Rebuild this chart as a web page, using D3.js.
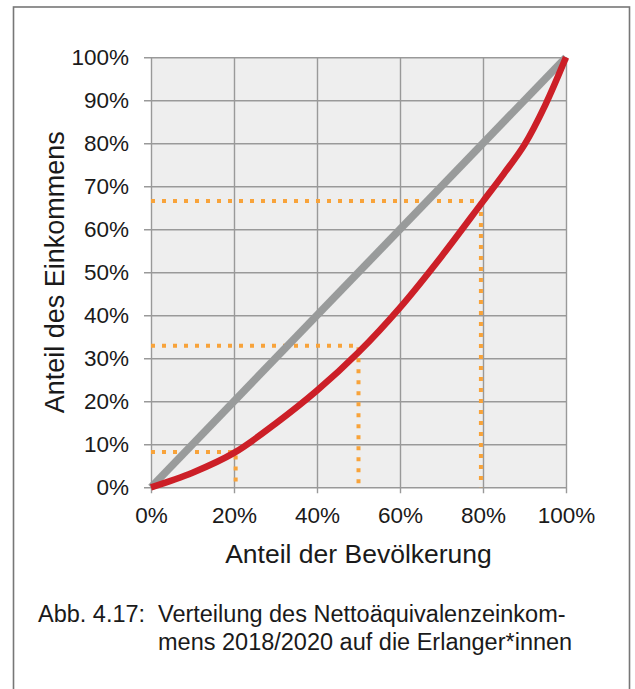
<!DOCTYPE html>
<html>
<head>
<meta charset="utf-8">
<script src="https://cdn.jsdelivr.net/npm/d3@7"></script>
<style>
  html, body { margin: 0; padding: 0; background: #fff; }
  svg { display: block; }
  text { font-family: "Liberation Sans", Arial, Helvetica, sans-serif; fill: #1a1a1a; }
</style>
</head>
<body>
<svg id="chart" width="635" height="689"></svg>
<script>
// ---- Data ----
const populationShare = [0, 10, 20, 30, 40, 50, 60, 70, 80, 85, 90, 95, 100];   // % of population
const incomeShare     = [0, 3.4, 8.0, 14.8, 22.5, 31.4, 41.8, 53.7, 66.5, 72.9, 79.7, 88.9, 100]; // % of income (Lorenz curve)
const equalityLine    = [[0, 0], [100, 100]];
const markerPop       = [20.4, 50, 79.5];   // orange guide lines: population share
const markerIncome    = [8.2, 32.9, 66.6];  // orange guide lines: income share
const xTickValues     = [0, 20, 40, 60, 80, 100];
const yTickValues     = [0, 10, 20, 30, 40, 50, 60, 70, 80, 90, 100];
const xTitle   = "Anteil der Bevölkerung";
const yTitle   = "Anteil des Einkommens";
const captionLabel = "Abb. 4.17:";
const captionLines = ["Verteilung des Nettoäquivalenzeinkom-", "mens 2018/2020 auf die Erlanger*innen"];

(function () {
// ---- Layout ----
const svg = d3.select("#chart");
const pL = 151, pR = 566, pT = 57.3, pB = 487.3;
const x = d3.scaleLinear().domain([0, 100]).range([pL, pR]);
const y = d3.scaleLinear().domain([0, 100]).range([pB, pT]);
const fmt = d => d + "%";

// outer frame
svg.append("rect")
  .attr("x", 13.5).attr("y", 7).attr("width", 616).attr("height", 720)
  .attr("fill", "none").attr("stroke", "#777").attr("stroke-width", 1.6);

// plot background
svg.append("rect")
  .attr("x", pL).attr("y", pT).attr("width", pR - pL).attr("height", pB - pT)
  .attr("fill", "#eeeeee");

const gridColor = "#999999";
// y axis with gridlines
const yAxis = svg.append("g")
  .attr("transform", `translate(${pL},0)`)
  .call(d3.axisLeft(y).tickValues(yTickValues).tickFormat(fmt)
        .tickSizeInner(-(pR - pL)).tickSizeOuter(0));
yAxis.select(".domain").remove();
yAxis.selectAll(".tick line")
  .attr("x1", -7).attr("stroke", gridColor).attr("stroke-width", 1.4);
yAxis.selectAll(".tick text")
  .attr("x", -22).attr("font-size", 22.5).attr("fill", "#1a1a1a")
  .attr("font-family", "Liberation Sans, Arial, sans-serif");

// x axis with gridlines
const xAxis = svg.append("g")
  .attr("transform", `translate(0,${pB})`)
  .call(d3.axisBottom(x).tickValues(xTickValues).tickFormat(fmt)
        .tickSizeInner(-(pB - pT)).tickSizeOuter(0));
xAxis.select(".domain").remove();
xAxis.selectAll(".tick line")
  .attr("y1", 6).attr("stroke", gridColor).attr("stroke-width", 1.4);
xAxis.selectAll(".tick text")
  .attr("y", 36).attr("dy", 0).attr("font-size", 22.5).attr("fill", "#1a1a1a")
  .attr("font-family", "Liberation Sans, Arial, sans-serif");

// orange guide lines
const orange = "#f8a33a";
markerPop.forEach((p, i) => {
  const v = markerIncome[i];
  svg.append("path")
    .attr("d", d3.line()([[x(0), y(v)], [x(p), y(v)], [x(p), y(0)]]))
    .attr("fill", "none").attr("stroke", orange).attr("stroke-width", 4)
    .attr("stroke-dasharray", "4 7");
});

// equality line
svg.append("path")
  .attr("d", d3.line().x(d => x(d[0])).y(d => y(d[1]))(equalityLine))
  .attr("fill", "none").attr("stroke", "#999b9b").attr("stroke-width", 7.6);

// Lorenz curve
const lorenz = populationShare.map((p, i) => [p, incomeShare[i]]);
svg.append("path")
  .attr("d", d3.line().x(d => x(d[0])).y(d => y(d[1])).curve(d3.curveCatmullRom.alpha(0.5))(lorenz))
  .attr("fill", "none").attr("stroke", "#cc1f27").attr("stroke-width", 6.5)
  .attr("stroke-linejoin", "round");

// axis titles
svg.append("text")
  .attr("x", (pL + pR) / 2).attr("y", 563)
  .attr("text-anchor", "middle").attr("font-size", 26.5)
  .text(xTitle);
svg.append("text")
  .attr("transform", `translate(64,${(pT + pB) / 2}) rotate(-90)`)
  .attr("text-anchor", "middle").attr("font-size", 27)
  .text(yTitle);

// caption
svg.append("text").attr("x", 38).attr("y", 622).attr("font-size", 23.5).text(captionLabel);
captionLines.forEach((t, i) => {
  svg.append("text").attr("x", 158).attr("y", 622 + i * 28).attr("font-size", 23.5).text(t);
});
})();
</script>
</body>
</html>
